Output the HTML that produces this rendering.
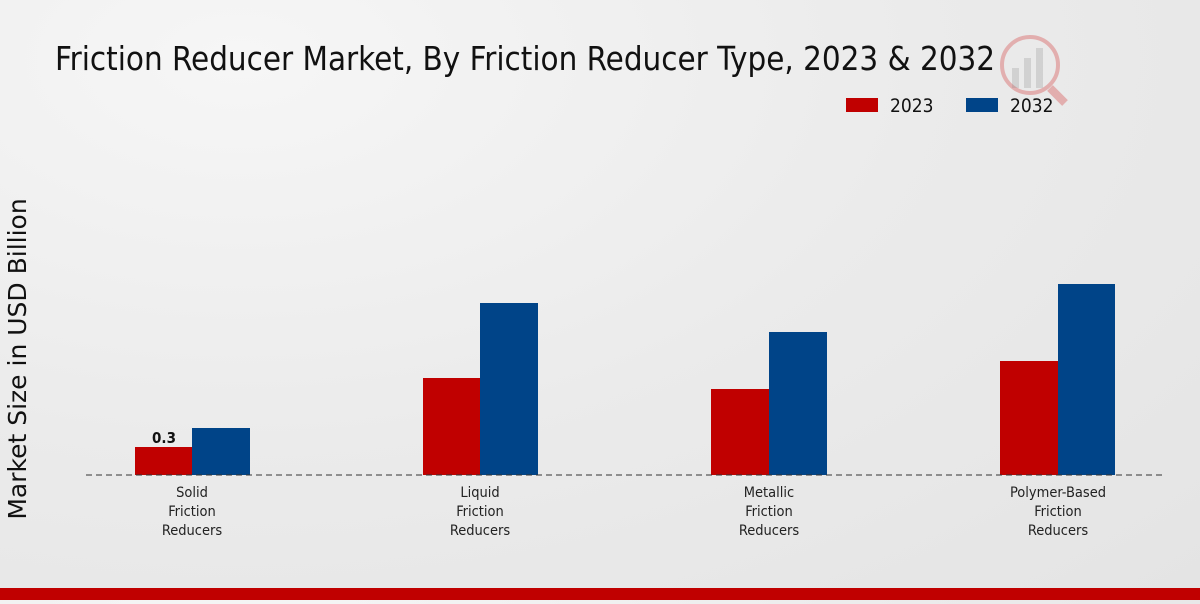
<!DOCTYPE html>
<html><head><meta charset="utf-8"><style>
html,body{margin:0;padding:0;}
body{width:1200px;height:600px;overflow:hidden;background:radial-gradient(ellipse at 20% 10%,#f6f6f6 0%,#ebebeb 50%,#e4e4e4 100%);font-family:"DejaVu Sans Condensed","DejaVu Sans","Liberation Sans",sans-serif;}
svg text{font-family:"DejaVu Sans Condensed","DejaVu Sans","Liberation Sans",sans-serif;font-stretch:condensed;}
svg text.yl{font-family:"DejaVu Sans","Liberation Sans",sans-serif;font-stretch:normal;}
</style></head><body>
<svg width="1200" height="600" viewBox="0 0 1200 600">
<text x="55" y="70" font-size="32.8" fill="#111">Friction Reducer Market, By Friction Reducer Type, 2023 &amp; 2032</text>
<g opacity="0.25" fill="none" stroke="#c00" stroke-width="4">
<circle cx="1030" cy="65" r="28"/>
<line x1="1050" y1="88" x2="1065" y2="103" stroke-width="8"/>
</g>
<g opacity="0.25" fill="#888"><rect x="1012" y="68" width="7" height="20"/><rect x="1024" y="58" width="7" height="30"/><rect x="1036" y="48" width="7" height="40"/></g>
<rect x="846" y="98" width="32" height="14" fill="#c00000"/>
<text x="890" y="112" font-size="19" fill="#111">2023</text>
<rect x="966" y="98" width="32" height="14" fill="#004488"/>
<text x="1010" y="112" font-size="19" fill="#111">2032</text>
<text class="yl" transform="translate(26,359) rotate(-90)" font-size="25" text-anchor="middle" fill="#111">Market Size in USD Billion</text>
<g fill="#c00000">
<rect x="135" y="447" width="57" height="28"/>
<rect x="423" y="378" width="57" height="97"/>
<rect x="711" y="389" width="58" height="86"/>
<rect x="1000" y="361" width="58" height="114"/>
</g>
<g fill="#004488">
<rect x="192" y="428" width="58" height="47"/>
<rect x="480" y="303" width="58" height="172"/>
<rect x="769" y="332" width="58" height="143"/>
<rect x="1058" y="284" width="57" height="191"/>
</g>
<line x1="86" y1="475" x2="1165" y2="475" stroke="#333" stroke-width="1" stroke-dasharray="6,4"/>
<text x="164" y="443" font-size="15" font-weight="bold" text-anchor="middle" fill="#111">0.3</text>
<g font-size="14.5" text-anchor="middle" fill="#222">
<text x="192" y="497">Solid</text><text x="192" y="516">Friction</text><text x="192" y="535">Reducers</text>
<text x="480" y="497">Liquid</text><text x="480" y="516">Friction</text><text x="480" y="535">Reducers</text>
<text x="769" y="497">Metallic</text><text x="769" y="516">Friction</text><text x="769" y="535">Reducers</text>
<text x="1058" y="497">Polymer-Based</text><text x="1058" y="516">Friction</text><text x="1058" y="535">Reducers</text>
</g>
<rect x="0" y="588" width="1200" height="12" fill="#c00000"/>
</svg>
</body></html>
